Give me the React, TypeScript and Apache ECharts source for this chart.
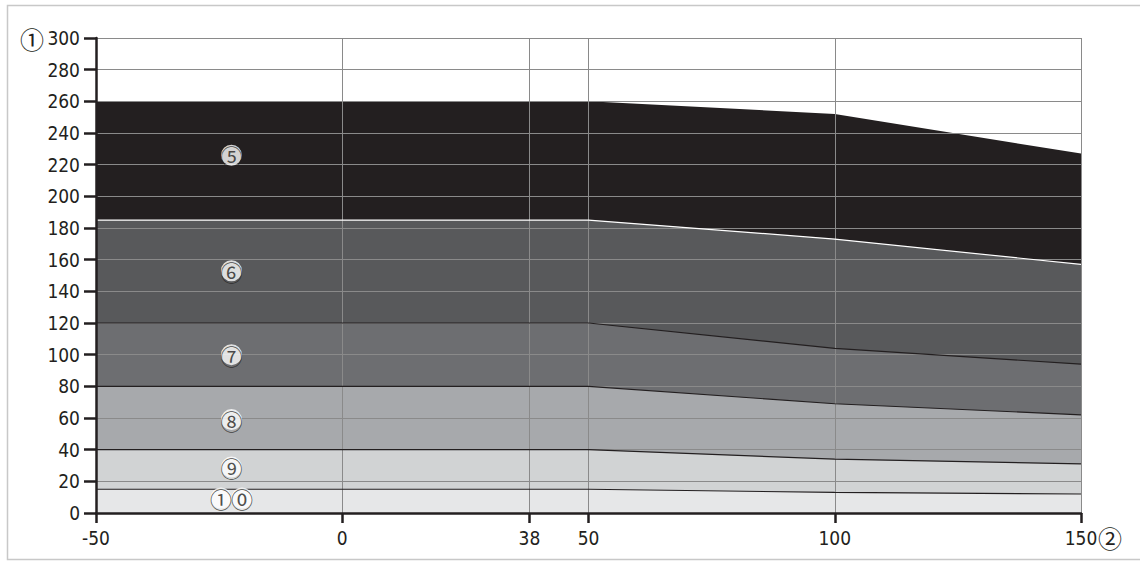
import React, { useEffect, useRef } from "react";
import * as echarts from "echarts";

const xPoints = [-50, 50, 100, 150];
const zone5 = [260, 260, 252, 227];
const zone6 = [185, 185, 173, 157];
const zone7 = [120, 120, 104, 94];
const zone8 = [80, 80, 69, 62];
const zone9 = [40, 40, 34, 31];
const zone10 = [15, 15, 13, 12];

const zoneColors = ["#231f20", "#58595b", "#6d6e71", "#a7a9ac", "#d1d3d4", "#e6e7e8"];
const zoneLines = ["#231f20", "#ffffff", "#231f20", "#231f20", "#231f20", "#231f20"];

const xTickValues = [-50, 0, 38, 50, 100, 150];
const gridXValues = [0, 38, 50, 100, 150];
const gridYValues = [20, 40, 60, 80, 100, 120, 140, 160, 180, 200, 220, 240, 260, 280, 300];

const zoneLabels = ["⑤", "⑥", "⑦", "⑧", "⑨", "①⓪"];
const labelX = -22.5;
const labelY = [226, 153, 100, 59, 29, 9.5];

const yAxisName = "①";
const xAxisName = "②";

export default function App() {
  const ref = useRef<HTMLDivElement>(null);
  useEffect(() => {
    document.body.style.margin = "0";
    if (!ref.current) return;
    const chart = echarts.init(ref.current, null, { renderer: "svg" });
    const zones = [zone5, zone6, zone7, zone8, zone9, zone10];
    const areaSeries = zones.map((z, k) => ({
      type: "line",
      name: zoneLabels[k],
      data: xPoints.map((x, i) => [x, z[i]]),
      symbol: "none",
      z: 2,
      areaStyle: { color: zoneColors[k], opacity: 1, origin: "start" },
      lineStyle: { width: 0 },
      silent: true,
    }));
    const edgeSeries = zones.slice(1).map((z, k) => ({
      type: "line",
      name: zoneLabels[k + 1] + " edge",
      data: xPoints.map((x, i) => [x, z[i]]),
      symbol: "none",
      z: 12,
      lineStyle: { color: zoneLines[k + 1], width: 1.2 },
      silent: true,
    }));
    const font = "'DejaVu Sans Condensed', Roboto, sans-serif";
    const circFont = "'Noto Sans CJK JP', 'DejaVu Sans', sans-serif";
    const option: any = {
      animation: false,
      grid: { left: 96, right: 59, top: 38, bottom: 48, containLabel: false },
      xAxis: {
        type: "value",
        min: -50,
        max: 150,
        z: 20,
        splitLine: { show: false },
        axisLine: { show: true, onZero: false, lineStyle: { color: "#231f20", width: 2.5 } },
        axisTick: { show: true, customValues: xTickValues, length: 10, lineStyle: { color: "#231f20", width: 2.5 } },
        axisLabel: { customValues: xTickValues, margin: 15, color: "#231f20", fontSize: 19, fontFamily: font },
      },
      yAxis: {
        type: "value",
        min: 0,
        max: 300,
        interval: 20,
        z: 20,
        splitLine: { show: false },
        axisLine: { show: true, onZero: false, lineStyle: { color: "#231f20", width: 2.5 } },
        axisTick: { show: true, length: 12, lineStyle: { color: "#231f20", width: 2.5 } },
        axisLabel: { margin: 16, color: "#231f20", fontSize: 19, fontFamily: font },
      },
      series: [
        ...areaSeries,
        {
          type: "line",
          data: [],
          z: 10,
          silent: true,
          markLine: {
            z: 10,
            silent: true,
            symbol: ["none", "none"],
            label: { show: false },
            lineStyle: { color: "#8a8a8a", width: 1, type: "solid" },
            data: [
              ...gridYValues.map((v) => ({ yAxis: v })),
              ...gridXValues.map((v) => ({ xAxis: v })),
            ],
          },
        },
        ...edgeSeries,
        {
          type: "scatter",
          z: 15,
          symbolSize: 0,
          silent: true,
          data: zoneLabels.map((t, i) => ({ value: [labelX, labelY[i]], name: t })),
          label: {
            show: true,
            position: "inside",
            formatter: (p: any) =>
              Array.from(p.name as string)
                .map((c) => `{c|${c}}`)
                .join(""),
            rich: {
              c: {
                fontFamily: circFont,
                fontSize: 22,
                color: "#231f20",
                backgroundColor: "#ffffff",
                borderRadius: 11,
                width: 21,
                height: 21,
                lineHeight: 21,
                align: "center",
                verticalAlign: "middle",
              },
            },
          },
        },
      ],
      graphic: [
        {
          type: "rect",
          silent: true,
          shape: { x: 7.5, y: 5.5, width: 1200, height: 554 },
          style: { fill: "none", stroke: "#c8c8c8", lineWidth: 1.5 },
        },
        {
          type: "text",
          x: 32,
          y: 38,
          style: { text: yAxisName, fontSize: 24, fill: "#231f20", align: "center", verticalAlign: "middle", fontFamily: circFont },
        },
        {
          type: "text",
          x: 1110,
          y: 537,
          style: { text: xAxisName, fontSize: 24, fill: "#231f20", align: "center", verticalAlign: "middle", fontFamily: circFont },
        },
      ],
    };
    chart.setOption(option);
    return () => chart.dispose();
  }, []);
  return <div ref={ref} style={{ width: 1140, height: 561 }} />;
}
